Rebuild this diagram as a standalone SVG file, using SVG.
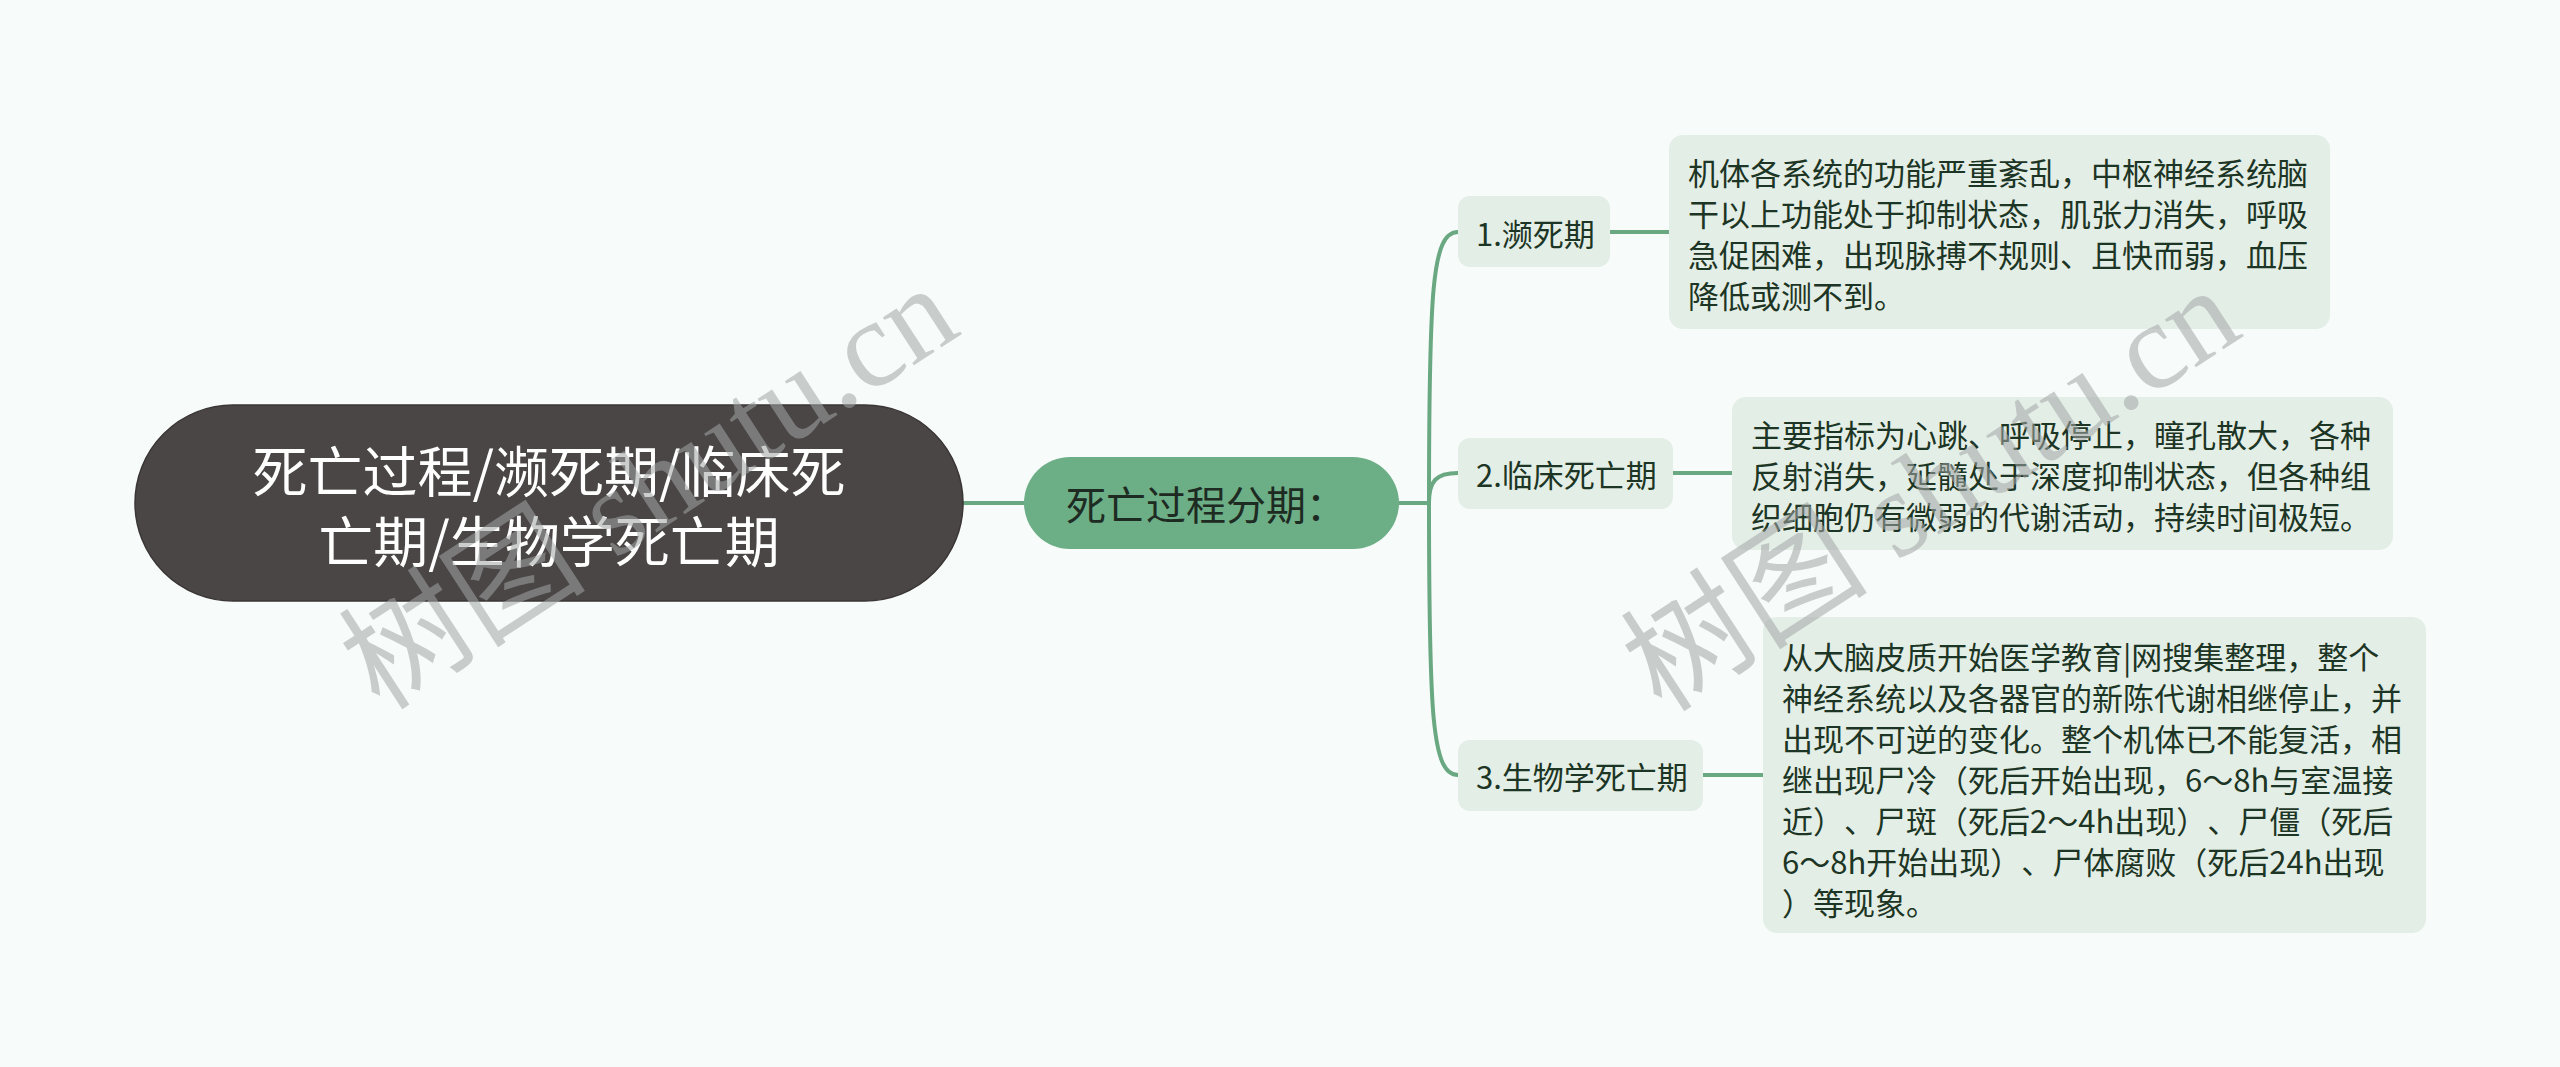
<svg xmlns="http://www.w3.org/2000/svg" width="2560" height="1067" viewBox="0 0 2560 1067">
  <defs>
    <style>
      .cjk { font-family: "Noto Sans CJK SC", "Noto Sans", sans-serif; text-spacing-trim: space-all; }
      .root-shape { fill: #4b4646; stroke: #3b3636; stroke-width: 1.5; }
      .root-text { fill: #ffffff; font-size: 55px; }
      .mid-shape { fill: #6cae86; }
      .mid-text { fill: #1e2b22; font-size: 40px; }
      .box { fill: #e3eee6; }
      .label { fill: #1d3524; font-size: 31px; }
      .conn { fill: none; stroke: #6aa882; stroke-width: 4; stroke-linecap: round; }
      .wm { fill: #a3a6a6; fill-opacity: 0.55; font-family: "Liberation Serif", "Noto Sans CJK SC", serif; font-size: 124px; }
    </style>
  </defs>

  <rect x="0" y="0" width="2560" height="1067" fill="#f7fcfb"/>

  <g id="connectors">
    <path class="conn" d="M963,503 L1024,503"/>
    <path class="conn" d="M1399,503 L1429,503"/>
    <path class="conn" d="M1429,503 C1429,290 1432,232 1458,232"/>
    <path class="conn" d="M1429,503 C1429,481 1436,473 1458,473"/>
    <path class="conn" d="M1429,503 C1429,716 1432,775 1458,775"/>
    <path class="conn" d="M1610,232 L1669,232"/>
    <path class="conn" d="M1673,473 L1732,473"/>
    <path class="conn" d="M1703,775 L1763,775"/>
  </g>

  <g id="node-root">
    <rect class="root-shape" x="135" y="405" width="828" height="196" rx="98" ry="98"/>
    <text class="cjk root-text" x="549" y="468" text-anchor="middle" dominant-baseline="central">死亡过程/濒死期/临床死</text>
    <text class="cjk root-text" x="549" y="538" text-anchor="middle" dominant-baseline="central">亡期/生物学死亡期</text>
  </g>

  <g id="node-stages">
    <rect class="mid-shape" x="1024" y="457" width="375" height="92" rx="46" ry="46"/>
    <text class="cjk mid-text" x="1066" y="503" dominant-baseline="central">死亡过程分期：</text>
  </g>

  <g id="node-1">
    <rect class="box" x="1458" y="196" width="152" height="71" rx="12" ry="12"/>
    <text class="cjk label" x="1476" y="232" dominant-baseline="central">1.濒死期</text>
  </g>

  <g id="node-2">
    <rect class="box" x="1458" y="438" width="215" height="71" rx="12" ry="12"/>
    <text class="cjk label" x="1476" y="473" dominant-baseline="central">2.临床死亡期</text>
  </g>

  <g id="node-3">
    <rect class="box" x="1458" y="740" width="245" height="71" rx="12" ry="12"/>
    <text class="cjk label" x="1476" y="775" dominant-baseline="central">3.生物学死亡期</text>
  </g>

  <g id="node-1-detail">
    <rect class="box" x="1669" y="135" width="661" height="194" rx="14" ry="14"/>
    <text class="cjk label" dominant-baseline="central">
      <tspan x="1688" y="171">机体各系统的功能严重紊乱，中枢神经系统脑</tspan>
      <tspan x="1688" y="212">干以上功能处于抑制状态，肌张力消失，呼吸</tspan>
      <tspan x="1688" y="253">急促困难，出现脉搏不规则、且快而弱，血压</tspan>
      <tspan x="1688" y="294">降低或测不到。</tspan>
    </text>
  </g>

  <g id="node-2-detail">
    <rect class="box" x="1732" y="397" width="661" height="153" rx="14" ry="14"/>
    <text class="cjk label" dominant-baseline="central">
      <tspan x="1751" y="433">主要指标为心跳、呼吸停止，瞳孔散大，各种</tspan>
      <tspan x="1751" y="474">反射消失，延髓处于深度抑制状态，但各种组</tspan>
      <tspan x="1751" y="515">织细胞仍有微弱的代谢活动，持续时间极短。</tspan>
    </text>
  </g>

  <g id="node-3-detail">
    <rect class="box" x="1763" y="617" width="663" height="316" rx="14" ry="14"/>
    <text class="cjk label" dominant-baseline="central">
      <tspan x="1782" y="655">从大脑皮质开始医学教育|网搜集整理，整个</tspan>
      <tspan x="1782" y="696">神经系统以及各器官的新陈代谢相继停止，并</tspan>
      <tspan x="1782" y="737">出现不可逆的变化。整个机体已不能复活，相</tspan>
      <tspan x="1782" y="778">继出现尸冷（死后开始出现，6～8h与室温接</tspan>
      <tspan x="1782" y="819">近）、尸斑（死后2～4h出现）、尸僵（死后</tspan>
      <tspan x="1782" y="860">6～8h开始出现）、尸体腐败（死后24h出现</tspan>
      <tspan x="1782" y="901">）等现象。</tspan>
    </text>
  </g>

  <g id="watermarks">
    <text class="wm" transform="translate(380,712) rotate(-33)">树图 shutu.cn</text>
    <text class="wm" transform="translate(1662,714) rotate(-33)">树图 shutu.cn</text>
  </g>
</svg>
